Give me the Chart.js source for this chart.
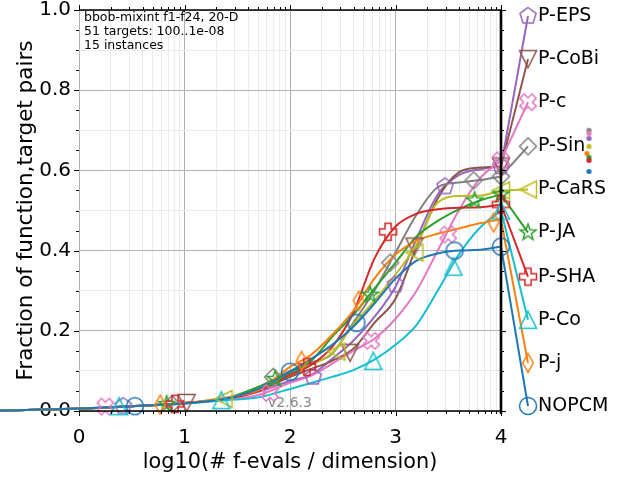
<!DOCTYPE html>
<html>
<head>
<meta charset="utf-8">
<title>bbob-mixint f1-f24, 20-D ECDF</title>
<script src="https://cdn.jsdelivr.net/npm/chart.js@4.4.1/dist/chart.umd.min.js"></script>
<style>
  html, body { margin: 0; padding: 0; background: #fff; }
</style>
</head>
<body>
<canvas id="ecdf-canvas" width="640" height="480"></canvas>
<script>
// 横軸の共通サンプル位置 log10(#f-evals / dimension) --- (*1)
const logEvals = [-0.75, 0, 0.5, 1, 1.4, 1.7, 2, 2.2, 2.4, 2.6, 2.8, 3, 3.2, 3.4, 3.6, 3.8, 4];

// 各アルゴリズムの到達割合 (logEvals に対応) --- (*2)
const nopcmFractions = [0.001, 0.006, 0.012, 0.019, 0.031, 0.055, 0.098, 0.13, 0.165, 0.21, 0.268, 0.33, 0.375, 0.393, 0.4, 0.402, 0.41];
const pjFractions = [0.001, 0.006, 0.012, 0.02, 0.034, 0.052, 0.11, 0.14, 0.19, 0.25, 0.33, 0.39, 0.425, 0.442, 0.455, 0.468, 0.478];
const pcoFractions = [0.001, 0.006, 0.012, 0.019, 0.027, 0.034, 0.055, 0.07, 0.085, 0.102, 0.128, 0.165, 0.215, 0.3, 0.39, 0.457, 0.5];
const pshaFractions = [0.001, 0.006, 0.012, 0.02, 0.031, 0.05, 0.09, 0.115, 0.16, 0.245, 0.38, 0.46, 0.492, 0.503, 0.507, 0.508, 0.515];
const pjaFractions = [0.001, 0.006, 0.012, 0.02, 0.032, 0.06, 0.095, 0.125, 0.185, 0.24, 0.305, 0.37, 0.435, 0.474, 0.503, 0.525, 0.54];
const pcarsFractions = [0.001, 0.006, 0.012, 0.02, 0.033, 0.05, 0.09, 0.115, 0.145, 0.215, 0.275, 0.34, 0.415, 0.52, 0.536, 0.537, 0.55];
const psinFractions = [0.001, 0.006, 0.012, 0.02, 0.031, 0.06, 0.1, 0.12, 0.143, 0.22, 0.3, 0.395, 0.49, 0.558, 0.57, 0.576, 0.585];
const pcFractions = [0.001, 0.006, 0.012, 0.019, 0.029, 0.04, 0.07, 0.088, 0.118, 0.15, 0.18, 0.23, 0.3, 0.4, 0.5, 0.58, 0.625];
const pcobiFractions = [0.001, 0.006, 0.012, 0.02, 0.031, 0.05, 0.085, 0.105, 0.125, 0.155, 0.22, 0.28, 0.41, 0.53, 0.595, 0.607, 0.61];
const pepsFractions = [0.001, 0.006, 0.012, 0.019, 0.03, 0.048, 0.075, 0.09, 0.13, 0.175, 0.235, 0.31, 0.43, 0.54, 0.588, 0.603, 0.61];

const algNames = ["NOPCM", "P-j", "P-Co", "P-SHA", "P-JA", "P-CaRS", "P-Sin", "P-c", "P-CoBi", "P-EPS"];
const algFractions = [nopcmFractions, pjFractions, pcoFractions, pshaFractions, pjaFractions,
  pcarsFractions, psinFractions, pcFractions, pcobiFractions, pepsFractions];

// マーカー位置 (アルゴリズムごと) --- (*3)
const markerLogEvals = [
  [0.53, 2.0, 2.63, 3.56, 4],
  [0.77, 2.11, 2.65, 3.93],
  [0.38, 1.35, 2.79, 3.55, 4],
  [0.91, 2.16, 2.93, 4],
  [0.83, 1.86, 2.76, 3.75, 4],
  [1.37, 2.44, 3.18, 4],
  [0.88, 1.84, 2.95, 3.74, 4],
  [0.25, 1.81, 2.77, 3.5, 4],
  [1.02, 2.57, 3.18, 4],
  [0.42, 2.22, 3.0, 3.47, 4],
];
const markerFractions = [
  [0.012, 0.098, 0.22, 0.4, 0.41],
  [0.016, 0.125, 0.275, 0.47],
  [0.012, 0.027, 0.125, 0.36, 0.5],
  [0.018, 0.11, 0.447, 0.515],
  [0.017, 0.08, 0.29, 0.525, 0.54],
  [0.03, 0.148, 0.395, 0.55],
  [0.017, 0.085, 0.37, 0.575, 0.585],
  [0.011, 0.045, 0.175, 0.44, 0.625],
  [0.02, 0.145, 0.41, 0.61],
  [0.012, 0.085, 0.315, 0.56, 0.61],
];

// 右側ラベルの位置 --- (*4)
const legendLogEval = 4.256;
const legendFractions = [0.0125, 0.12, 0.2275, 0.335, 0.445, 0.5525, 0.66, 0.77, 0.8775, 0.985];

// 右端の小さな点 --- (*5)
const dotAlgIndex = [6, 7, 9, 5, 1, 4, 3, 0];
const dotLogEvals = [4.834, 4.834, 4.834, 4.834, 4.815, 4.834, 4.834, 4.834];
const dotFractions = [0.70, 0.6925, 0.68, 0.66, 0.6425, 0.6325, 0.625, 0.5975];

// 目盛り
const xMajorTicks = [0, 1, 2, 3, 4];
const yMajorTicks = [0, 0.2, 0.4, 0.6, 0.8, 1.0];

const infoLines = ["bbob-mixint f1-f24, 20-D", "51 targets: 100..1e-08", "15 instances"];
const versionText = "v2.6.3";

// 見た目の設定
const algColors = ["#1f77b4", "#ff7f0e", "#17becf", "#d62728", "#2ca02c", "#bcbd22", "#7f7f7f", "#e377c2", "#8c564b", "#9467bd"];
const algMarkers = ["o", "d", "^", "P", "*", "<", "D", "X", "v", "p"];

Chart.defaults.font.family = "'DejaVu Sans', sans-serif";
Chart.defaults.color = "#000";

// マーカー画像を作る関数 --- (*6)
function makeMarker(shape, color) {
  const c = document.createElement("canvas");
  c.width = 26;
  c.height = 26;
  const g = c.getContext("2d");
  g.translate(13, 13);
  g.strokeStyle = color;
  g.lineWidth = 1.5;
  const r = 8.5;
  let pts = null;
  if (shape === "o") {
    g.beginPath();
    g.arc(0, 0, r, 0, Math.PI * 2);
    g.stroke();
    return c;
  }
  if (shape === "d") pts = [[0, -r * 1.1], [r * 0.62, 0], [0, r * 1.1], [-r * 0.62, 0]];
  if (shape === "D") pts = [[0, -r], [r, 0], [0, r], [-r, 0]];
  if (shape === "^") pts = [[0, -r], [r, r], [-r, r]];
  if (shape === "v") pts = [[0, r], [r, -r], [-r, -r]];
  if (shape === "<") pts = [[-r, 0], [r, -r], [r, r]];
  if (shape === "P" || shape === "X") {
    const w = r * 0.36;
    pts = [[-w, -r], [w, -r], [w, -w], [r, -w], [r, w], [w, w], [w, r], [-w, r], [-w, w], [-r, w], [-r, -w], [-w, -w]];
    if (shape === "X") {
      const a = Math.PI / 4;
      pts = pts.map(([px, py]) => [px * Math.cos(a) - py * Math.sin(a), px * Math.sin(a) + py * Math.cos(a)]);
    }
  }
  if (shape === "*" || shape === "p") {
    pts = [];
    const n = 5;
    for (let k = 0; k < n * (shape === "*" ? 2 : 1); k++) {
      const step = shape === "*" ? Math.PI / n : (2 * Math.PI) / n;
      const rr = shape === "*" && k % 2 === 1 ? r * 0.4 : r;
      const ang = -Math.PI / 2 + k * step;
      pts.push([rr * Math.cos(ang), rr * Math.sin(ang)]);
    }
  }
  g.beginPath();
  pts.forEach(([px, py], k) => (k === 0 ? g.moveTo(px, py) : g.lineTo(px, py)));
  g.closePath();
  g.stroke();
  return c;
}

function makeDot(color) {
  const c = document.createElement("canvas");
  c.width = 7;
  c.height = 7;
  const g = c.getContext("2d");
  g.fillStyle = color;
  g.beginPath();
  g.arc(3.5, 3.5, 2.6, 0, Math.PI * 2);
  g.fill();
  return c;
}

// 目盛り位置 (主目盛り + 対数副目盛り) --- (*7)
function xTickValues() {
  const vals = [];
  xMajorTicks.forEach((d) => {
    vals.push(d);
    if (d < xMajorTicks[xMajorTicks.length - 1]) {
      for (let k = 2; k <= 9; k++) vals.push(d + Math.log10(k));
    }
  });
  return vals;
}
function yTickValues() {
  const vals = [];
  for (let k = 0; k <= 20; k++) vals.push(k / 20);
  return vals;
}
const isYMajor = (v) => yMajorTicks.some((t) => Math.abs(t - v) < 1e-6);
const isYHalf = (v) => Math.round(v * 20) % 2 === 0;

// データセットを組み立てる関数 --- (*8)
function buildDatasets() {
  const sets = [];
  algNames.forEach((name, i) => {
    const color = algColors[i];
    const ys = algFractions[i];
    sets.push({
      label: name,
      data: logEvals.map((x, j) => ({ x, y: ys[j] })),
      borderColor: color,
      borderWidth: 2,
      pointRadius: 0,
      cubicInterpolationMode: "monotone",
      clip: false,
      order: 2,
    });
    sets.push({
      label: name + " label line",
      data: [
        { x: logEvals[logEvals.length - 1], y: ys[ys.length - 1] },
        { x: legendLogEval, y: legendFractions[i] },
      ],
      borderColor: color,
      borderWidth: 2,
      pointRadius: 0,
      tension: 0,
      clip: false,
      order: 2,
    });
    // ラベル横のマーカーを先頭に置き、範囲外の点も省略されないようにする
    const marks = [{ x: legendLogEval, y: legendFractions[i] }];
    markerLogEvals[i].forEach((x, j) => marks.push({ x, y: markerFractions[i][j] }));
    sets.push({
      label: name + " markers",
      data: marks,
      showLine: false,
      pointStyle: makeMarker(algMarkers[i], color),
      // 画像マーカーは半径で描画範囲判定されるため大きくする
      pointRadius: 600,
      clip: false,
      order: 1,
    });
  });
  const dotImages = dotAlgIndex.map((a) => makeDot(algColors[a]));
  sets.push({
    label: "dots",
    data: dotLogEvals.map((x, j) => ({ x, y: dotFractions[j] })),
    showLine: false,
    pointStyle: (ctx) => dotImages[ctx.dataIndex],
    pointRadius: 600,
    clip: false,
    order: 0,
  });
  return sets;
}

// 枠線・目盛り線・文字を描くプラグイン --- (*9)
const decorPlugin = {
  id: "decor",
  afterDatasetsDraw(chart) {
    const { ctx, chartArea: area, scales } = chart;
    const xs = scales.x;
    const ys = scales.y;
    ctx.save();
    ctx.strokeStyle = "#000";
    ctx.lineWidth = 1;
    ctx.beginPath();
    xs.ticks.forEach((t) => {
      const px = Math.round(xs.getPixelForValue(t.value)) + 0.5;
      const len = Number.isInteger(t.value) ? 5 : 3;
      ctx.moveTo(px, area.bottom);
      ctx.lineTo(px, area.bottom + len);
      ctx.moveTo(px, area.top);
      ctx.lineTo(px, area.top - len);
    });
    ys.ticks.forEach((t) => {
      const py = Math.round(ys.getPixelForValue(t.value)) + 0.5;
      const len = isYMajor(t.value) ? 5 : 3;
      ctx.moveTo(area.left, py);
      ctx.lineTo(area.left - len, py);
      ctx.moveTo(area.right, py);
      ctx.lineTo(area.right + len, py);
    });
    ctx.stroke();

    ctx.lineWidth = 1.3;
    ctx.beginPath();
    ctx.moveTo(area.left, area.top);
    ctx.lineTo(area.right, area.top);
    ctx.stroke();
    ctx.lineWidth = 1.6;
    ctx.beginPath();
    ctx.moveTo(area.left, area.bottom);
    ctx.lineTo(area.right, area.bottom);
    ctx.stroke();
    ctx.lineWidth = 2.6;
    ctx.beginPath();
    ctx.moveTo(area.right, area.top);
    ctx.lineTo(area.right, area.bottom + 3);
    ctx.stroke();

    ctx.fillStyle = "#000";
    ctx.textBaseline = "middle";
    ctx.textAlign = "left";
    ctx.font = "12.5px 'DejaVu Sans'";
    infoLines.forEach((line, k) => ctx.fillText(line, area.left + 5, area.top + 8 + k * 14));

    ctx.fillStyle = "#8a8a8a";
    ctx.font = "14px 'DejaVu Sans'";
    ctx.fillText(versionText, area.left + area.width * 0.448, area.bottom - 8);

    ctx.fillStyle = "#000";
    ctx.font = "19px 'DejaVu Sans'";
    algNames.forEach((name, i) => {
      const px = xs.getPixelForValue(legendLogEval) + 10;
      const py = ys.getPixelForValue(legendFractions[i]);
      ctx.fillText(name, px, py);
    });
    ctx.restore();
  },
};

// 初期化処理 --- (*10)
window.addEventListener("DOMContentLoaded", () => {
  const canvas = document.querySelector("#ecdf-canvas");
  new Chart(canvas, {
    type: "line",
    data: { datasets: buildDatasets() },
    options: {
      responsive: false,
      animation: false,
      events: [],
      layout: { autoPadding: false, padding: { left: 0, top: 10, right: 139, bottom: 0 } },
      plugins: { legend: { display: false }, tooltip: { enabled: false } },
      scales: {
        x: {
          type: "linear",
          min: 0,
          max: 4,
          afterFit: (s) => {
            s.height = 69;
            s.paddingLeft = 0;
            s.paddingRight = 0;
          },
          afterBuildTicks: (s) => { s.ticks = xTickValues().map((v) => ({ value: v })); },
          ticks: {
            autoSkip: false,
            maxRotation: 0,
            padding: 15,
            font: { size: 20 },
            color: "#000",
            callback: (v) => (Number.isInteger(v) ? String(v) : ""),
          },
          grid: {
            drawTicks: false,
            color: (c) => (c.tick && Number.isInteger(c.tick.value) ? "#b0b0b0" : "#ebebeb"),
            lineWidth: 1,
          },
          border: { display: false },
          title: {
            display: true,
            text: "log10(# f-evals / dimension)",
            font: { size: 20.8 },
            color: "#000",
            padding: { top: 0, bottom: 5 },
          },
        },
        y: {
          type: "linear",
          min: 0,
          max: 1,
          afterFit: (s) => {
            s.width = 79;
            s.paddingTop = 0;
            s.paddingBottom = 0;
          },
          afterBuildTicks: (s) => { s.ticks = yTickValues().map((v) => ({ value: v })); },
          ticks: {
            autoSkip: false,
            padding: 8,
            font: { size: 20, lineHeight: 1 },
            color: "#000",
            callback: (v) => (isYMajor(v) ? v.toFixed(1) : ""),
          },
          grid: {
            drawTicks: false,
            color: (c) => {
              if (!c.tick) return "rgba(0,0,0,0)";
              if (isYMajor(c.tick.value)) return "#b0b0b0";
              return isYHalf(c.tick.value) ? "#ebebeb" : "rgba(0,0,0,0)";
            },
            lineWidth: 1,
          },
          border: { display: false },
          title: {
            display: true,
            text: "Fraction of function,target pairs",
            font: { size: 21.5 },
            color: "#000",
            padding: { top: 14, bottom: 0 },
          },
        },
      },
    },
    plugins: [decorPlugin],
  });
});
</script>
</body>
</html>
